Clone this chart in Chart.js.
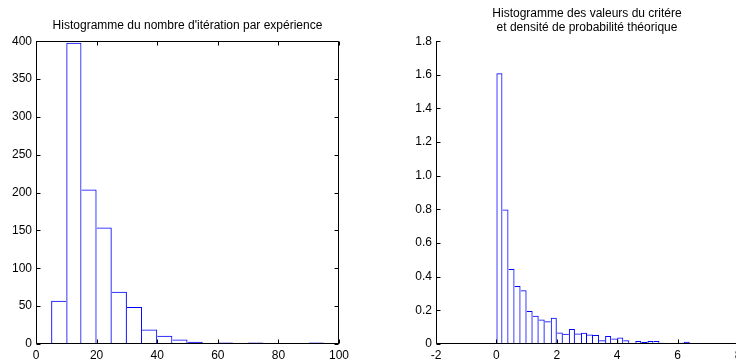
<!DOCTYPE html>
<html>
<head>
<meta charset="utf-8">
<script src="https://cdn.jsdelivr.net/npm/chart.js@4"></script>
<style>
  html, body { margin: 0; padding: 0; background: #ffffff; }
  body { width: 736px; height: 362px; overflow: hidden; position: relative; }
  .wrap { position: absolute; top: 0; }
  canvas { display: block; }
</style>
</head>
<body>
<div class="wrap" style="left:0px;width:368px;height:362px;"><canvas id="c1" width="368" height="362"></canvas></div>
<div class="wrap" style="left:368px;width:400px;height:362px;"><canvas id="c2" width="400" height="362"></canvas></div>
<script>
// ---- Data: left histogram (number of iterations per experiment) ----
const iterBinCenters = [7.5, 12.5, 17.5, 22.5, 27.5, 32.5, 37.5, 42.5, 47.5, 52.5, 57.5, 62.5, 67.5, 72.5, 77.5, 82.5, 87.5, 92.5];
const iterCounts     = [57, 398, 204, 154, 69, 49, 19, 11, 6, 3, 1, 2, 1, 2, 0, 0, 1, 2];
const iterTitle = "Histogramme du nombre d'itération par expérience";

// ---- Data: right histogram (criterion values, density) ----
const critBinCenters = [0.1, 0.3, 0.5, 0.7, 0.9, 1.1, 1.3, 1.5, 1.7, 1.9, 2.1, 2.3, 2.5, 2.7, 2.9, 3.1, 3.3, 3.5, 3.7, 3.9, 4.1, 4.3, 4.5, 4.7, 4.9, 5.1, 5.3, 5.5, 5.7, 5.9, 6.1, 6.3, 6.5, 6.7];
const critDensity    = [1.61, 0.80, 0.446, 0.345, 0.319, 0.196, 0.168, 0.145, 0.135, 0.156, 0.069, 0.061, 0.089, 0.063, 0.067, 0.057, 0.053, 0.022, 0.048, 0.032, 0.038, 0.022, 0.002, 0.018, 0.012, 0.018, 0.018, 0.008, 0.002, 0.002, 0.008, 0.014, 0.006, 0.002];
const critTitle = ["Histogramme des valeurs du critére", "et densité de probabilité théorique"];

const FONT = "'Liberation Sans', Arial, Helvetica, sans-serif";

function toPoints(xs, ys) { return xs.map((x, i) => ({ x: x, y: ys[i] })); }

// Each shared edge between two adjacent bars is drawn once, by the taller bar
function edgeWidths(ys) {
  return function (ctx) {
    const i = ctx.dataIndex;
    const v = ys[i];
    const prev = i > 0 ? ys[i - 1] : -Infinity;
    const next = i < ys.length - 1 ? ys[i + 1] : -Infinity;
    return { top: 1, bottom: 0, left: v > prev ? 1 : 0, right: v >= next ? 1 : 0 };
  };
}

// Draws MATLAB-like axes: box lines and inward ticks
function axesPlugin(sides) {
  return {
    id: 'matlabAxes',
    afterDatasetsDraw(chart) {
      const ctx = chart.ctx;
      const a = chart.chartArea;
      const xs = chart.scales.x, ys = chart.scales.y;
      const L = Math.round(a.left) + 0.5, R = Math.round(a.right) - 0.5;
      const T = Math.round(a.top) + 0.5, B = Math.round(a.bottom) - 0.5;
      const tl = 4;
      ctx.save();
      ctx.strokeStyle = '#000000';
      ctx.lineWidth = 1;
      ctx.beginPath();
      ctx.moveTo(L, B); ctx.lineTo(R + 0.5, B);
      ctx.moveTo(L, B); ctx.lineTo(L, T - 0.5);
      if (sides.box) {
        ctx.moveTo(L, T); ctx.lineTo(R, T);
        ctx.moveTo(R, T); ctx.lineTo(R, B);
      }
      xs.ticks.forEach(t => {
        const px = Math.round(xs.getPixelForValue(t.value)) + 0.5;
        ctx.moveTo(px, B); ctx.lineTo(px, B - tl);
        if (sides.box) { ctx.moveTo(px, T); ctx.lineTo(px, T + tl); }
      });
      ys.ticks.forEach(t => {
        const py = Math.round(ys.getPixelForValue(t.value)) + 0.5;
        ctx.moveTo(L, py); ctx.lineTo(L + tl, py);
        if (sides.box) { ctx.moveTo(R, py); ctx.lineTo(R - tl, py); }
      });
      ctx.stroke();
      ctx.restore();
    }
  };
}

function makeChart(id, xs, ys, opts) {
  return new Chart(document.getElementById(id), {
    type: 'bar',
    data: {
      datasets: [{
        data: toPoints(xs, ys),
        backgroundColor: 'rgba(255,255,255,0)',
        borderColor: '#0000ff',
        borderWidth: edgeWidths(ys),
        borderSkipped: 'start',
        inflateAmount: 0,
        barPercentage: 1.0,
        categoryPercentage: 1.0
      }]
    },
    options: {
      responsive: false,
      animation: false,
      devicePixelRatio: 1,
      layout: { padding: opts.padding },
      plugins: {
        legend: { display: false },
        tooltip: { enabled: false },
        title: {
          display: true,
          text: opts.title,
          fullSize: false,
          color: '#000000',
          font: { family: FONT, size: 12, weight: 'normal', lineHeight: 1.1 },
          padding: opts.titlePadding
        }
      },
      scales: {
        x: {
          type: 'linear',
          offset: false,
          min: opts.xMin, max: opts.xMax,
          grid: { display: false, drawTicks: false, offset: false },
          border: { display: false },
          ticks: { stepSize: opts.xStep, color: '#000000', padding: 4, maxRotation: 0,
                   font: { family: FONT, size: 12 } },
          afterFit(s) { s.height = 18; }
        },
        y: {
          min: 0, max: opts.yMax,
          grid: { display: false, drawTicks: false },
          border: { display: false },
          ticks: { stepSize: opts.yStep, color: '#000000', padding: 4,
                   font: { family: FONT, size: 12 } },
          afterFit(s) { s.width = opts.yWidth; }
        }
      }
    },
    plugins: [axesPlugin({ box: opts.box })]
  });
}

makeChart('c1', iterBinCenters, iterCounts, {
  title: iterTitle,
  padding: { left: 0, right: 29, top: 0, bottom: 0 },
  titlePadding: { top: 19.5, bottom: 8.5 },
  xMin: 0, xMax: 100, xStep: 20,
  yMax: 400, yStep: 50, yWidth: 36, box: true
});

makeChart('c2', critBinCenters, critDensity, {
  title: critTitle,
  padding: { left: 0, right: 30, top: 0, bottom: 0 },
  titlePadding: { top: 7.5, bottom: 7.3 },
  xMin: -2, xMax: 8, xStep: 2,
  yMax: 1.8, yStep: 0.2, yWidth: 68, box: false
});
</script>
</body>
</html>
